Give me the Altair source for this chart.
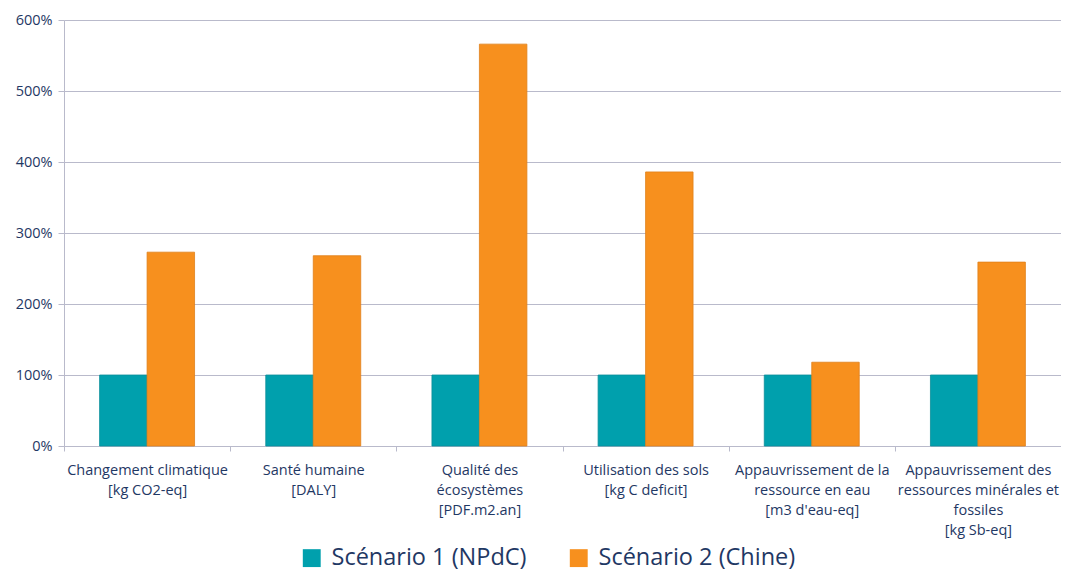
import altair as alt
import pandas as pd

categories = [
    "Changement climatique|[kg CO2-eq]",
    "Santé humaine|[DALY]",
    "Qualité des|écosystèmes|[PDF.m2.an]",
    "Utilisation des sols|[kg C deficit]",
    "Appauvrissement de la|ressource en eau|[m3 d'eau-eq]",
    "Appauvrissement des|ressources minérales et|fossiles|[kg Sb-eq]",
]
series = ["Scénario 1 (NPdC)", "Scénario 2 (Chine)"]
scenario1 = [1.00, 1.00, 1.00, 1.00, 1.00, 1.00]
scenario2 = [2.73, 2.68, 5.66, 3.86, 1.18, 2.59]
colors = ["#00A0AD", "#F7901E"]
strokes = ["#0A8E99", "#E0801A"]

rows = []
for i, c in enumerate(categories):
    rows.append({"cat": c, "serie": series[0], "val": scenario1[i]})
    rows.append({"cat": c, "serie": series[1], "val": scenario2[i]})
df = pd.DataFrame(rows)

font = "Open Sans"
txt = "#1F3864"
gridc = "#B9BACB"

chart = alt.Chart(df).mark_bar(strokeWidth=0.8).encode(
    x=alt.X("cat:N", sort=categories, title=None,
            scale=alt.Scale(paddingInner=0, paddingOuter=0),
            axis=alt.Axis(labelExpr="split(datum.label, '|')", labelAngle=0,
                          labelFont=font, labelFontSize=14.5, labelColor=txt,
                          labelLineHeight=20, labelPadding=12,
                          tickBand="extent", tickColor=gridc, tickSize=5,
                          domainColor=gridc, labelBaseline="top")),
    xOffset=alt.XOffset("serie:N", sort=series,
                        scale=alt.Scale(paddingInner=0, paddingOuter=0.75)),
    y=alt.Y("val:Q", title=None,
            scale=alt.Scale(domain=[0, 6]),
            axis=alt.Axis(values=[0, 1, 2, 3, 4, 5, 6], format=".0%",
                          labelFont=font, labelFontSize=14.5, labelColor=txt,
                          labelPadding=6, tickColor=gridc, tickSize=6,
                          domainColor=gridc, gridColor=gridc)),
    color=alt.Color("serie:N", sort=series,
                    scale=alt.Scale(domain=series, range=colors),
                    legend=alt.Legend(orient="none", legendX=236, legendY=526,
                                      direction="horizontal", title=None,
                                      symbolType="square", symbolSize=320,
                                      symbolStrokeWidth=0,
                                      labelFont=font, labelFontSize=23.5,
                                      labelColor=txt, columnPadding=40,
                                      labelOffset=8, labelLimit=400)),
    stroke=alt.Stroke("serie:N", sort=series,
                      scale=alt.Scale(domain=series, range=strokes),
                      legend=None),
).properties(
    width=997, height=426,
    autosize=alt.AutoSizeParams(type="none"),
    padding={"left": 56, "top": 12, "right": 0, "bottom": 125},
).configure_view(stroke=None).configure_axis(gridWidth=1, domainWidth=1)

chart.save("out.html", embed_options={"renderer": "svg", "actions": False})
